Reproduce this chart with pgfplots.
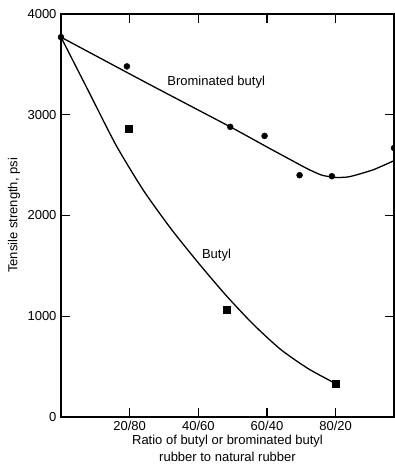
\documentclass[border=0pt]{standalone}
\usepackage{fontspec}
\setmainfont{Liberation Sans}
\usepackage{pgfplots}
\pgfplotsset{compat=1.18}
\begin{document}
\fontsize{13}{17}\selectfont
\begin{tikzpicture}
\begin{axis}[name=ax,
  scale only axis, width=333pt, height=403pt,
  xmin=0, xmax=97, ymin=0, ymax=4000,
  xtick={20,40,60,80}, xticklabels={20/80,40/60,60/40,80/20},
  ytick={0,1000,2000,3000,4000},
  yticklabel style={/pgf/number format/set thousands separator={}},
  /pgf/number format/assume math mode=true,
  tick align=inside, major tick length=9pt,
  axis line style={line width=1.6pt},
  tick style={line width=1.2pt, black},
  ticklabel style={font=\fontsize{13}{15}\selectfont},
  xlabel={Ratio of butyl or brominated butyl\\rubber to natural rubber},
  xlabel style={align=center, font=\fontsize{13}{17}\selectfont, at={(axis description cs:0.5,-0.078)}, anchor=center},
  ylabel={Tensile strength, psi},
  ylabel style={font=\fontsize{13}{15}\selectfont, at={(axis description cs:-0.141,0.5)}, anchor=center},
]
% Brominated butyl curve
\addplot[black, line width=1.3pt, smooth, tension=0.35] coordinates {
 (0,3770) (25,3315) (49.3,2880) (60,2680) (67,2551) (72,2460) (76,2400) (80,2378) (84,2385) (90.8,2452) (97,2544)
};
% Butyl curve
\addplot[black, line width=1.3pt, smooth, tension=0.4] coordinates {
 (0,3770) (8,3235) (16,2700) (24,2250) (32,1870) (40,1530) (48,1210) (56,920) (64,670) (72,480) (79.7,337)
};
% Brominated butyl points
\addplot[only marks, mark=*, mark size=3pt, black] coordinates {
 (0,3770) (19.2,3480) (49.3,2880) (59.3,2790) (69.5,2400) (78.9,2390) (97,2670)
};
% Butyl points
\addplot[only marks, mark=square*, mark size=3.5pt, black] coordinates {
 (19.7,2860) (48.4,1062) (80.1,328)
};
\node[font=\fontsize{13}{15}\selectfont] at (axis cs:45.2,3325) {Brominated butyl};
\node[font=\fontsize{13}{15}\selectfont] at (axis cs:45.3,1608) {Butyl};
\end{axis}
\pgfresetboundingbox
\path[use as bounding box] ([xshift=-61pt,yshift=-49pt]ax.south west) rectangle ([xshift=1pt,yshift=14pt]ax.north east);
\end{tikzpicture}
\end{document}
